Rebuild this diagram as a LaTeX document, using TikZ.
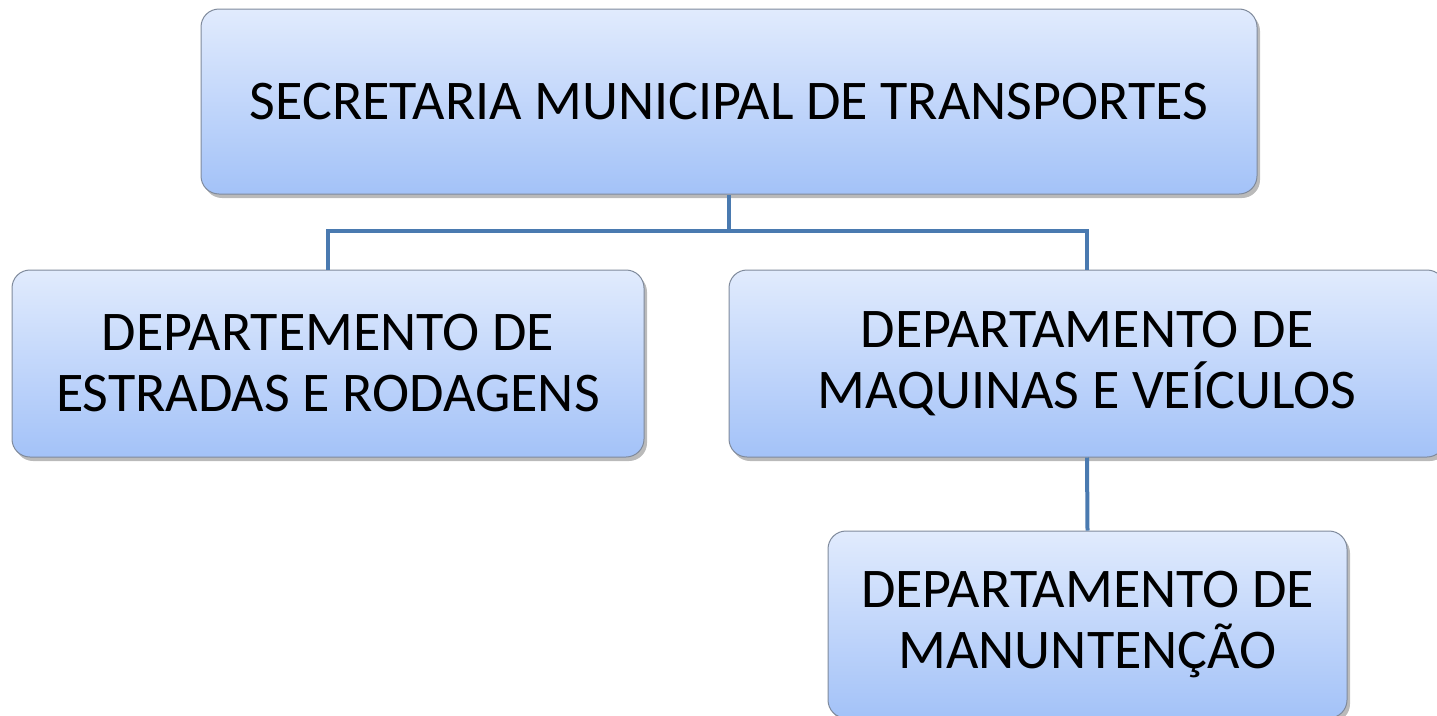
\documentclass[tikz,border=0pt]{standalone}
\usepackage{fontspec}
\setmainfont{Carlito}
\usetikzlibrary{shadows}
\definecolor{boxtop}{HTML}{E1EBFD}
\definecolor{boxbot}{HTML}{A3C2F8}
\definecolor{boxline}{HTML}{7F8A9C}
\definecolor{connc}{HTML}{4A7AB0}
\tikzset{
  orgbox/.style={rectangle, rounded corners=18pt, draw=boxline, line width=1pt,
    top color=boxtop, bottom color=boxbot, align=center, text=black,
    font=\fontsize{56}{61}\selectfont, minimum height=187pt, inner sep=0pt,
    drop shadow={shadow xshift=3pt, shadow yshift=-4pt, opacity=0.45, fill=black!60}},
  conn/.style={draw=connc, line width=4pt}
}
\begin{document}
\begin{tikzpicture}[x=1pt,y=-1pt]
\useasboundingbox (0,0) rectangle (1437,715);
\clip (0,0) rectangle (1437,715);
\coordinate (bus) at (0,231);
\node[orgbox, minimum width=1056pt, minimum height=185pt] (top) at (729,101.5) {SECRETARIA MUNICIPAL DE TRANSPORTES};
\node[orgbox, minimum width=632pt] (left) at (328,363.5) {DEPARTEMENTO DE\\ESTRADAS E RODAGENS};
\node[orgbox, minimum width=716pt] (right) at (1087,363.5) {DEPARTAMENTO DE\\MAQUINAS E VEÍCULOS};
\node[orgbox, minimum width=519pt] (bottom) at (1087.5,624.5) {DEPARTAMENTO DE\\MANUNTENÇÃO};
\draw[conn] (top.south) -- (top.south |- bus) -| (left.north);
\draw[conn] (top.south |- bus) -| (right.north);
\draw[conn] (right.south) -- (bottom.north);
\end{tikzpicture}
\end{document}
